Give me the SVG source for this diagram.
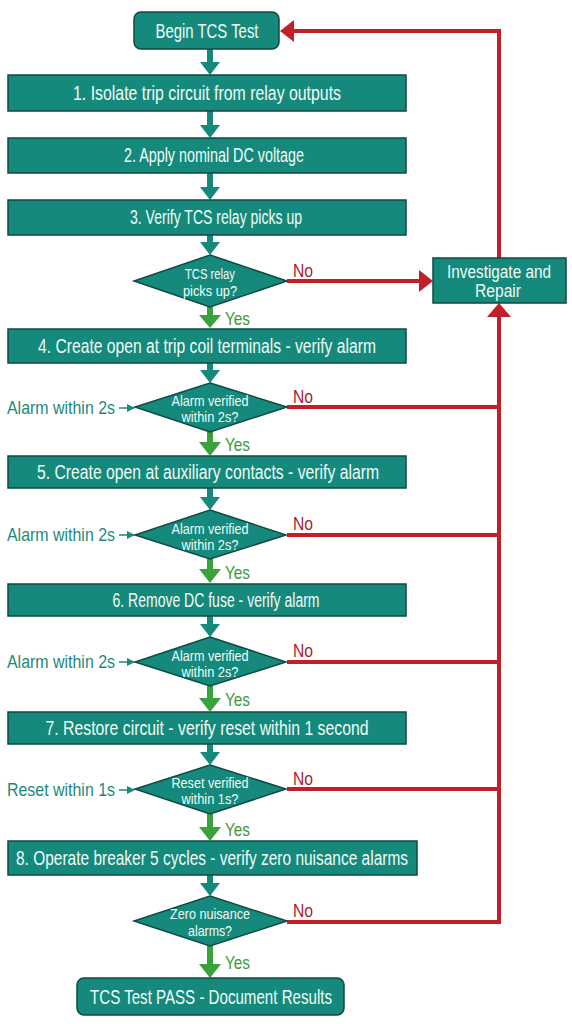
<svg xmlns="http://www.w3.org/2000/svg" width="572" height="1024" viewBox="0 0 572 1024">
<defs>
<style>
.box{fill:#15897b;stroke:#0f4a43;stroke-width:1.5}
.t{font-family:"Liberation Sans Narrow","Liberation Sans",sans-serif;fill:#f0fcf7;text-anchor:middle}
.bt{font-size:19.5px}
.it{font-size:17.5px}
.dt{font-size:15px}
.lab{font-family:"Liberation Sans Narrow","Liberation Sans",sans-serif;font-size:18.5px}
.yes{fill:#3c9a3c}
.no{fill:#a8202a}
.side{fill:#1b8a7a}
.red{stroke:#c1202b;stroke-width:4;fill:none}
.teal{fill:#15897b}
.green{fill:#3aa23a}
</style>
<marker id="sa" markerWidth="8" markerHeight="8" refX="7" refY="4" orient="auto" markerUnits="userSpaceOnUse"><path d="M0,0 L8,4 L0,8 Z" fill="#1b8a7a"/></marker>
</defs>
<rect width="572" height="1024" fill="#ffffff"/>

<g id="connectors">
  <g class="teal">
    <path d="M207,49 h6 v13 h7 l-10,13 l-10,-13 h7 z"/>
    <path d="M207,111 h6 v14 h7 l-10,13 l-10,-13 h7 z"/>
    <path d="M207,173 h6 v14 h7 l-10,13 l-10,-13 h7 z"/>
    <path d="M207,235 h6 v7 h7 l-10,13 l-10,-13 h7 z"/>
    <path d="M207,363 h6 v7 h7 l-10,13 l-10,-13 h7 z"/>
    <path d="M207,488 h6 v9 h7 l-10,13 l-10,-13 h7 z"/>
    <path d="M207,616 h6 v8 h7 l-10,13 l-10,-13 h7 z"/>
    <path d="M207,744 h6 v8 h7 l-10,13 l-10,-13 h7 z"/>
    <path d="M207,875 h6 v8 h7 l-10,13 l-10,-13 h7 z"/>
  </g>
  <g class="green">
    <path d="M207,307 h6 v8 h8 l-11,13 l-11,-13 h8 z"/>
    <path d="M207,432 h6 v10 h8 l-11,14 l-11,-14 h8 z"/>
    <path d="M207,559 h6 v10 h8 l-11,14 l-11,-14 h8 z"/>
    <path d="M207,686 h6 v12 h8 l-11,14 l-11,-14 h8 z"/>
    <path d="M207,814 h6 v13 h8 l-11,14 l-11,-14 h8 z"/>
    <path d="M207,945 h6 v19 h8 l-11,14 l-11,-14 h8 z"/>
  </g>
  <path class="red" d="M287,281 H421"/>
  <path d="M433,281 l-14,-11 v22 z" fill="#c1202b"/>
  <path class="red" d="M499,258 V31 H292"/>
  <path d="M280,31 l14,-11 v22 z" fill="#c1202b"/>
  <path class="red" d="M287,407 H499 M287,535 H499 M287,662 H499 M287,789 H499 M287,922 H499 V315"/>
  <path d="M499,303 l-12,14 h24 z" fill="#c1202b"/>
  <g stroke="#1b8a7a" stroke-width="1.5" marker-end="url(#sa)">
    <line x1="119" y1="408" x2="134" y2="408"/>
    <line x1="119" y1="535" x2="134" y2="535"/>
    <line x1="119" y1="662" x2="134" y2="662"/>
    <line x1="119" y1="790" x2="134" y2="790"/>
  </g>
  <g class="lab">
    <text class="no" x="293" y="277" textLength="20" lengthAdjust="spacingAndGlyphs">No</text>
    <text class="yes" x="225" y="325" textLength="25" lengthAdjust="spacingAndGlyphs">Yes</text>
    <text class="no" x="293" y="403" textLength="20" lengthAdjust="spacingAndGlyphs">No</text>
    <text class="yes" x="225" y="451" textLength="25" lengthAdjust="spacingAndGlyphs">Yes</text>
    <text class="no" x="293" y="530" textLength="20" lengthAdjust="spacingAndGlyphs">No</text>
    <text class="yes" x="225" y="579" textLength="25" lengthAdjust="spacingAndGlyphs">Yes</text>
    <text class="no" x="293" y="657" textLength="20" lengthAdjust="spacingAndGlyphs">No</text>
    <text class="yes" x="225" y="706" textLength="25" lengthAdjust="spacingAndGlyphs">Yes</text>
    <text class="no" x="293" y="785" textLength="20" lengthAdjust="spacingAndGlyphs">No</text>
    <text class="yes" x="225" y="836" textLength="25" lengthAdjust="spacingAndGlyphs">Yes</text>
    <text class="no" x="293" y="917" textLength="20" lengthAdjust="spacingAndGlyphs">No</text>
    <text class="yes" x="225" y="969" textLength="25" lengthAdjust="spacingAndGlyphs">Yes</text>
    <text class="side" x="7" y="414" textLength="108" lengthAdjust="spacingAndGlyphs">Alarm within 2s</text>
    <text class="side" x="7" y="541" textLength="108" lengthAdjust="spacingAndGlyphs">Alarm within 2s</text>
    <text class="side" x="7" y="668" textLength="108" lengthAdjust="spacingAndGlyphs">Alarm within 2s</text>
    <text class="side" x="7" y="796" textLength="108" lengthAdjust="spacingAndGlyphs">Reset within 1s</text>
  </g>
</g>

<g id="begin"><rect class="box" x="134" y="12" width="145" height="37" rx="7"/><text class="t bt" x="207" y="38" textLength="103" lengthAdjust="spacingAndGlyphs">Begin TCS Test</text></g>
<g id="step1"><rect class="box" x="8" y="75" width="398" height="36"/><text class="t bt" x="207" y="100" textLength="268" lengthAdjust="spacingAndGlyphs">1. Isolate trip circuit from relay outputs</text></g>
<g id="step2"><rect class="box" x="8" y="138" width="398" height="35"/><text class="t bt" x="214" y="162" textLength="180" lengthAdjust="spacingAndGlyphs">2. Apply nominal DC voltage</text></g>
<g id="step3"><rect class="box" x="8" y="200" width="398" height="35"/><text class="t bt" x="216" y="224" textLength="172" lengthAdjust="spacingAndGlyphs">3. Verify TCS relay picks up</text></g>
<g id="dec1"><polygon class="box" points="210,255 287,281 210,307 134,281"/><text class="t dt" x="210" y="279" textLength="50" lengthAdjust="spacingAndGlyphs">TCS relay</text><text class="t dt" x="210" y="296" textLength="54" lengthAdjust="spacingAndGlyphs">picks up?</text></g>
<g id="investigate"><rect class="box" x="433" y="258" width="133" height="45"/><text class="t it" x="499" y="278" textLength="104" lengthAdjust="spacingAndGlyphs">Investigate and</text><text class="t it" x="498" y="297" textLength="46" lengthAdjust="spacingAndGlyphs">Repair</text></g>
<g id="step4"><rect class="box" x="8" y="329" width="398" height="34"/><text class="t bt" x="207" y="353" textLength="338" lengthAdjust="spacingAndGlyphs">4. Create open at trip coil terminals - verify alarm</text></g>
<g id="dec2"><polygon class="box" points="210,383 287,407 210,432 135,407"/><text class="t dt" x="210" y="406" textLength="77" lengthAdjust="spacingAndGlyphs">Alarm verified</text><text class="t dt" x="210" y="422" textLength="57" lengthAdjust="spacingAndGlyphs">within 2s?</text></g>
<g id="step5"><rect class="box" x="8" y="456" width="398" height="32"/><text class="t bt" x="208" y="479" textLength="342" lengthAdjust="spacingAndGlyphs">5. Create open at auxiliary contacts - verify alarm</text></g>
<g id="dec3"><polygon class="box" points="210,510 286,535 210,559 135,535"/><text class="t dt" x="210" y="534" textLength="77" lengthAdjust="spacingAndGlyphs">Alarm verified</text><text class="t dt" x="210" y="550" textLength="57" lengthAdjust="spacingAndGlyphs">within 2s?</text></g>
<g id="step6"><rect class="box" x="8" y="584" width="398" height="32"/><text class="t bt" x="216" y="607" textLength="207" lengthAdjust="spacingAndGlyphs">6. Remove DC fuse - verify alarm</text></g>
<g id="dec4"><polygon class="box" points="210,637 286,662 210,686 135,662"/><text class="t dt" x="210" y="661" textLength="77" lengthAdjust="spacingAndGlyphs">Alarm verified</text><text class="t dt" x="210" y="677" textLength="57" lengthAdjust="spacingAndGlyphs">within 2s?</text></g>
<g id="step7"><rect class="box" x="8" y="712" width="398" height="32"/><text class="t bt" x="207" y="735" textLength="323" lengthAdjust="spacingAndGlyphs">7. Restore circuit - verify reset within 1 second</text></g>
<g id="dec5"><polygon class="box" points="210,765 286,789 210,814 135,789"/><text class="t dt" x="210" y="788" textLength="77" lengthAdjust="spacingAndGlyphs">Reset verified</text><text class="t dt" x="210" y="804" textLength="57" lengthAdjust="spacingAndGlyphs">within 1s?</text></g>
<g id="step8"><rect class="box" x="8" y="841" width="409" height="34"/><text class="t bt" x="212" y="865" textLength="392" lengthAdjust="spacingAndGlyphs">8. Operate breaker 5 cycles - verify zero nuisance alarms</text></g>
<g id="dec6"><polygon class="box" points="210,896 287,921 210,946 134,921"/><text class="t dt" x="210" y="919" textLength="80" lengthAdjust="spacingAndGlyphs">Zero nuisance</text><text class="t dt" x="210" y="936" textLength="44" lengthAdjust="spacingAndGlyphs">alarms?</text></g>
<g id="pass"><rect class="box" x="77" y="978" width="267" height="37" rx="7"/><text class="t bt" x="211" y="1004" textLength="242" lengthAdjust="spacingAndGlyphs">TCS Test PASS - Document Results</text></g>
</svg>
